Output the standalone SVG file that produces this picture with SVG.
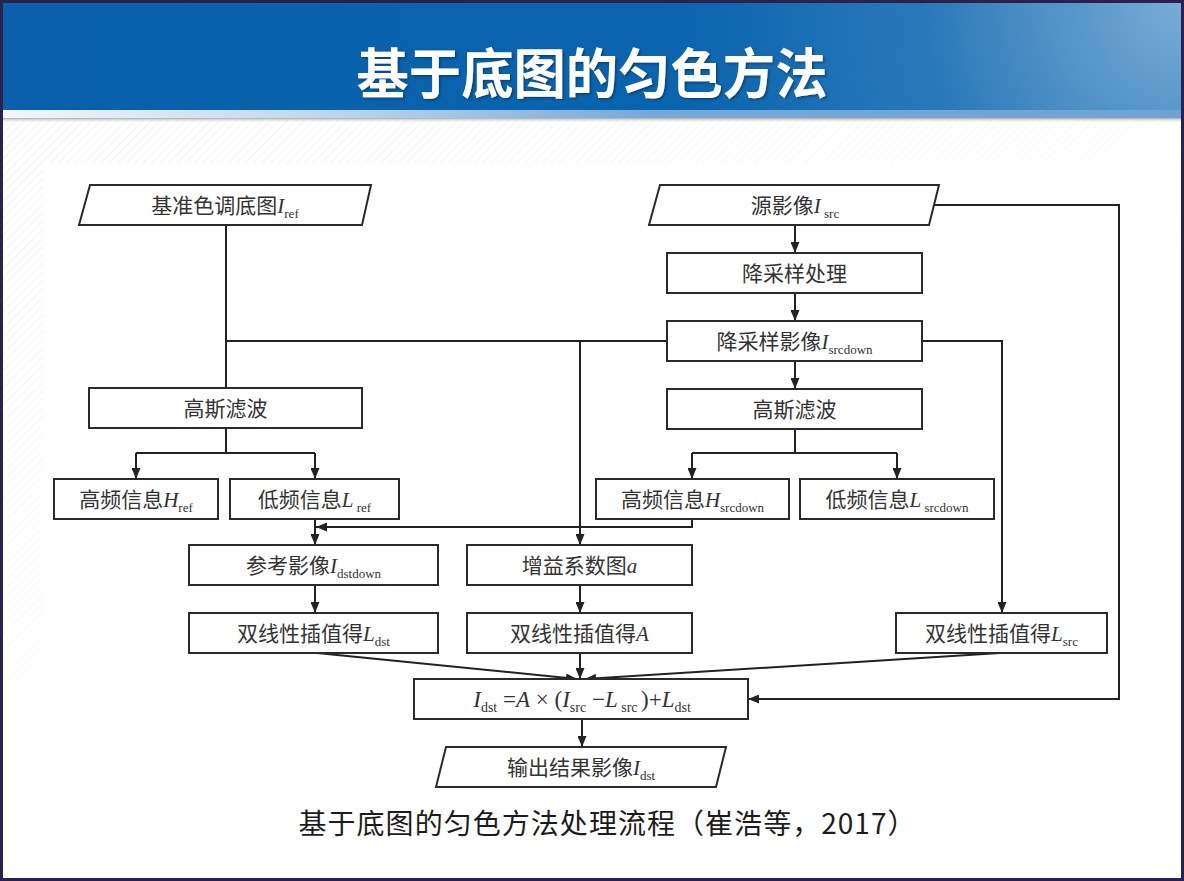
<svg xmlns="http://www.w3.org/2000/svg" width="1184" height="881" viewBox="0 0 1184 881">
  <defs>
    <style>
      .box { fill: #fff; stroke: #2a2a2a; stroke-width: 2; }
      .ln { fill: none; stroke: #222; stroke-width: 2; }
      .arr { marker-end: url(#ah); }
      .lbl { font-family: 'Liberation Serif', 'Noto Sans CJK SC', serif; font-size: 21px; fill: #333; text-anchor: middle; }
      .it { font-style: italic; }
      .sub { font-size: 13px; }
      .title { font-family: 'Noto Sans CJK SC', sans-serif; font-weight: 700; font-size: 54px; fill: #fff; text-anchor: middle; }
      .cap { font-family: 'Noto Sans CJK SC', sans-serif; font-size: 28px; fill: #1c1c1c; text-anchor: middle; }
    </style>
    <marker id="ah" viewBox="0 0 11 9" refX="11" refY="4.5" markerWidth="11" markerHeight="9" markerUnits="userSpaceOnUse" orient="auto">
      <path d="M0,0 L11,4.5 L0,9 z" fill="#222"/>
    </marker>
    <linearGradient id="hdr" x1="0" y1="0" x2="1" y2="0">
      <stop offset="0" stop-color="#0a60aa"/>
      <stop offset="0.6" stop-color="#0a64ae"/>
      <stop offset="1" stop-color="#1a70b6"/>
    </linearGradient>
    <radialGradient id="glow" cx="1184" cy="0" r="520" gradientUnits="userSpaceOnUse">
      <stop offset="0" stop-color="#ffffff" stop-opacity="0.42"/>
      <stop offset="0.5" stop-color="#ffffff" stop-opacity="0.1"/>
      <stop offset="1" stop-color="#ffffff" stop-opacity="0"/>
    </radialGradient>
    <linearGradient id="band" x1="0" y1="0" x2="1" y2="0">
      <stop offset="0" stop-color="#f4f7fa"/>
      <stop offset="0.3" stop-color="#b9d3ea"/>
      <stop offset="0.55" stop-color="#75a9d6"/>
      <stop offset="1" stop-color="#6fa4d2"/>
    </linearGradient>
    <linearGradient id="shade" x1="0" y1="0" x2="0" y2="1">
      <stop offset="0" stop-color="#a9a9a9"/>
      <stop offset="1" stop-color="#ffffff" stop-opacity="0"/>
    </linearGradient>
    <pattern id="hatch" width="6" height="6" patternUnits="userSpaceOnUse" patternTransform="rotate(45)">
      <line x1="0" y1="0" x2="0" y2="6" stroke="#f0f0f0" stroke-width="2"/>
    </pattern>
    <linearGradient id="fade" x1="0" y1="0" x2="1" y2="1">
      <stop offset="0" stop-color="#fff"/>
      <stop offset="0.7" stop-color="#000"/>
    </linearGradient>
    <mask id="hatchMask">
      <rect x="0" y="120" width="1184" height="560" fill="url(#fade)"/>
    </mask>
    <filter id="tshadow" x="-5%" y="-20%" width="110%" height="140%">
      <feDropShadow dx="1.5" dy="1.5" stdDeviation="1" flood-color="#03305a" flood-opacity="0.7"/>
    </filter>
  </defs>

  <!-- slide background -->
  <rect x="0" y="0" width="1184" height="881" fill="#ffffff"/>
  <rect x="0" y="120" width="1184" height="560" fill="url(#hatch)" mask="url(#hatchMask)"/>
  <rect x="43" y="163" width="1108" height="640" fill="#ffffff"/>

  <!-- header band -->
  <rect x="0" y="0" width="1184" height="110" fill="url(#hdr)"/>
  <rect x="0" y="0" width="1184" height="110" fill="url(#glow)"/>
  <rect x="0" y="110" width="1184" height="8" fill="url(#band)"/>
  <rect x="0" y="118" width="1184" height="5" fill="url(#shade)"/>
  <text class="title" x="592" y="94" textLength="471" lengthAdjust="spacingAndGlyphs" filter="url(#tshadow)">基于底图的匀色方法</text>

  <!-- frame -->
  <rect x="1.5" y="1.5" width="1181" height="878" fill="none" stroke="#2a2150" stroke-width="3"/>

  <!-- connectors -->
  <g id="connectors">
    <path class="ln arr" d="M795,225 V253"/>
    <path class="ln arr" d="M795,293 V321"/>
    <path class="ln arr" d="M795,361 V389"/>
    <path class="ln" d="M226,225 V388"/>
    <path class="ln" d="M226,341 H668"/>
    <path class="ln arr" d="M580,341 V545"/>
    <path class="ln" d="M226,428 V453 M136,453 H315"/>
    <path class="ln arr" d="M136,453 V479"/>
    <path class="ln arr" d="M315,453 V479"/>
    <path class="ln" d="M795,429 V453 M692,453 H897"/>
    <path class="ln arr" d="M692,453 V479"/>
    <path class="ln arr" d="M897,453 V479"/>
    <path class="ln arr" d="M315,519 V545"/>
    <path class="ln arr" d="M692,519 V527 H316"/>
    <path class="ln arr" d="M315,585 V613"/>
    <path class="ln arr" d="M580,585 V613"/>
    <path class="ln arr" d="M922,341 H1002 V613"/>
    <path class="ln arr" d="M934,205 H1119 V699 H748"/>
    <path class="ln arr" d="M317,653 L577,679"/>
    <path class="ln arr" d="M1000,653 L585,679"/>
    <path class="ln arr" d="M580,653 V679"/>
    <path class="ln arr" d="M582,719 V747"/>
  </g>

  <!-- nodes -->
  <g id="n-ref-image">
    <polygon class="box" points="90,185 371,185 362,225 79,225"/>
    <text class="lbl" x="225" y="212.5">基准色调底图<tspan class="it">I</tspan><tspan class="sub" dy="5">ref</tspan></text>
  </g>
  <g id="n-src-image">
    <polygon class="box" points="660,185 939,185 929,225 649,225"/>
    <text class="lbl" x="795" y="212.5">源影像<tspan class="it">I</tspan><tspan class="sub" dy="5"> src</tspan></text>
  </g>
  <g id="n-downsample">
    <rect class="box" x="667" y="253" width="255" height="40"/>
    <text class="lbl" x="794.5" y="280.5">降采样处理</text>
  </g>
  <g id="n-src-down">
    <rect class="box" x="667" y="321" width="255" height="40"/>
    <text class="lbl" x="794.5" y="348.5">降采样影像<tspan class="it">I</tspan><tspan class="sub" dy="5">srcdown</tspan></text>
  </g>
  <g id="n-gauss-ref">
    <rect class="box" x="89" y="388" width="273" height="40"/>
    <text class="lbl" x="225.5" y="415.5">高斯滤波</text>
  </g>
  <g id="n-gauss-src">
    <rect class="box" x="667" y="389" width="255" height="40"/>
    <text class="lbl" x="794.5" y="416.5">高斯滤波</text>
  </g>
  <g id="n-h-ref">
    <rect class="box" x="54" y="479" width="164" height="40"/>
    <text class="lbl" x="136" y="506.5">高频信息<tspan class="it">H</tspan><tspan class="sub" dy="5">ref</tspan></text>
  </g>
  <g id="n-l-ref">
    <rect class="box" x="230" y="479" width="169" height="40"/>
    <text class="lbl" x="314.5" y="506.5">低频信息<tspan class="it">L</tspan><tspan class="sub" dy="5"> ref</tspan></text>
  </g>
  <g id="n-h-srcdown">
    <rect class="box" x="596" y="479" width="193" height="40"/>
    <text class="lbl" x="692.5" y="506.5">高频信息<tspan class="it">H</tspan><tspan class="sub" dy="5">srcdown</tspan></text>
  </g>
  <g id="n-l-srcdown">
    <rect class="box" x="800" y="479" width="194" height="40"/>
    <text class="lbl" x="897" y="506.5">低频信息<tspan class="it">L</tspan><tspan class="sub" dy="5"> srcdown</tspan></text>
  </g>
  <g id="n-dst-down">
    <rect class="box" x="189" y="545" width="249" height="40"/>
    <text class="lbl" x="313.5" y="572.5">参考影像<tspan class="it">I</tspan><tspan class="sub" dy="5">dstdown</tspan></text>
  </g>
  <g id="n-gain">
    <rect class="box" x="467" y="545" width="225" height="40"/>
    <text class="lbl" x="579.5" y="572.5">增益系数图<tspan class="it">a</tspan></text>
  </g>
  <g id="n-interp-ldst">
    <rect class="box" x="189" y="613" width="249" height="40"/>
    <text class="lbl" x="313.5" y="640.5">双线性插值得<tspan class="it">L</tspan><tspan class="sub" dy="5">dst</tspan></text>
  </g>
  <g id="n-interp-a">
    <rect class="box" x="467" y="613" width="225" height="40"/>
    <text class="lbl" x="579.5" y="640.5">双线性插值得<tspan class="it">A</tspan></text>
  </g>
  <g id="n-interp-lsrc">
    <rect class="box" x="896" y="613" width="211" height="40"/>
    <text class="lbl" x="1001.5" y="640.5">双线性插值得<tspan class="it">L</tspan><tspan class="sub" dy="5">src</tspan></text>
  </g>
  <g id="n-formula">
    <rect class="box" x="414" y="679" width="334" height="40"/>
    <text class="lbl" x="582" y="707" style="font-size:23px"><tspan class="it">I</tspan><tspan dy="5" style="font-size:14px">dst</tspan><tspan dy="-5"> =</tspan><tspan class="it">A</tspan> × (<tspan class="it">I</tspan><tspan dy="5" style="font-size:14px">src</tspan><tspan dy="-5"> −</tspan><tspan class="it">L</tspan><tspan dy="5" style="font-size:14px"> src </tspan><tspan dy="-5">)+</tspan><tspan class="it">L</tspan><tspan dy="5" style="font-size:14px">dst</tspan></text>
  </g>
  <g id="n-output">
    <polygon class="box" points="446,747 726,747 716,787 436,787"/>
    <text class="lbl" x="581" y="774.5">输出结果影像<tspan class="it">I</tspan><tspan class="sub" dy="5">dst</tspan></text>
  </g>

  <!-- caption -->
  <text class="cap" x="607" y="834" textLength="617" lengthAdjust="spacing">基于底图的匀色方法处理流程（崔浩等，2017）</text>
</svg>
